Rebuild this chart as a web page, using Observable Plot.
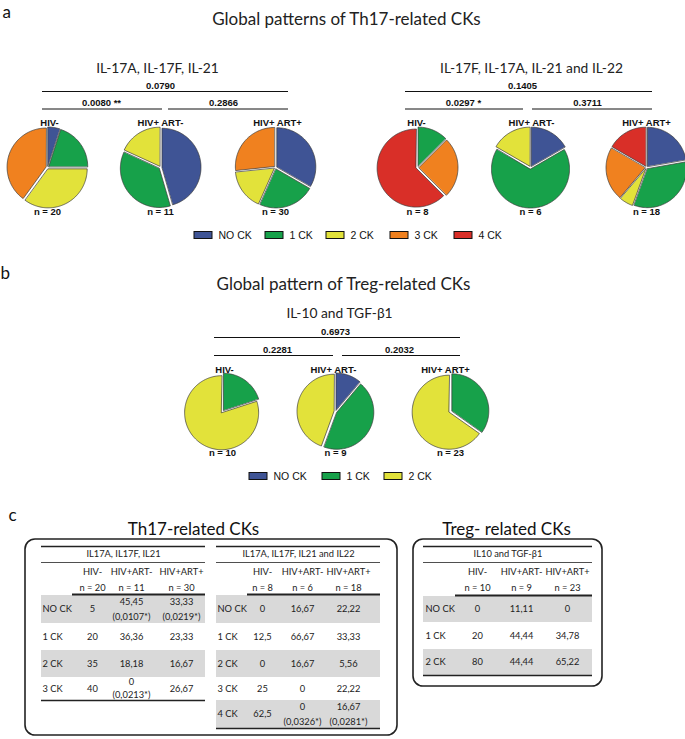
<!DOCTYPE html>
<html><head><meta charset="utf-8">
<script src="https://cdn.jsdelivr.net/npm/d3@7"></script>
<script src="https://cdn.jsdelivr.net/npm/@observablehq/plot@0.6"></script>
<style>body{margin:0;background:#fff}</style>
</head><body><div id="chart"></div>
<script>
// ---------- data ----------
const categories = ["NO CK", "1 CK", "2 CK", "3 CK", "4 CK"];
const palette = ["#3f5495", "#17a14a", "#e2e23a", "#f0811f", "#d92f28"];
const groups = ["HIV-", "HIV+ ART-", "HIV+ ART+"];
const panelLetters = ["a", "b", "c"];
const panelTitles = ["Global patterns of Th17-related CKs", "Global pattern of Treg-related CKs"];
const tableHeadings = ["Th17-related CKs", "Treg- related CKs"];
const tableTitles = ["IL17A, IL17F, IL21", "IL17A, IL17F, IL21 and IL22", "IL10 and TGF-β1"];

const th17aTitle = "IL-17A, IL-17F, IL-21";
const th17aN = [20, 11, 30];
const th17aValues = [[5, 20, 35, 40], [45.45, 36.36, 18.18, 0], [33.33, 23.33, 16.67, 26.67]];
const th17aP = ["0.0790", "0.0080 **", "0.2866"];
const th17aNotes = [[null, null, null, null], ["0,0107*", null, null, "0,0213*"], ["0,0219*", null, null, null]];

const th17bTitle = "IL-17F, IL-17A, IL-21 and IL-22";
const th17bN = [8, 6, 18];
const th17bValues = [[0, 12.5, 0, 25, 62.5], [16.67, 66.67, 16.67, 0, 0], [22.22, 33.33, 5.56, 22.22, 16.67]];
const th17bP = ["0.1405", "0.0297 *", "0.3711"];
const th17bNotes = [[null, null, null, null, null], [null, null, null, null, "0,0326*"], [null, null, null, null, "0,0281*"]];

const tregTitle = "IL-10 and TGF-β1";
const tregN = [10, 9, 23];
const tregValues = [[0, 20, 80], [11.11, 44.44, 44.44], [0, 34.78, 65.22]];
const tregP = ["0.6973", "0.2281", "0.2032"];
const tregNotes = [[null, null, null], [null, null, null], [null, null, null]];

// ---------- layout helpers ----------
const FONT_TITLE = "Lato, 'Open Sans', sans-serif";
const FONT_BOLD = "'Liberation Sans', Arial, sans-serif";
const FONT_TABLE = "Lato, 'Open Sans', sans-serif";
const EXPLODE = 1.5;
const pie = d3.pie().sort(null).value(d => d);

const slicePts = [];
function addPie(values, cx, cy, r, key) {
  pie(values).forEach((a, i) => {
    if (a.value <= 0) return;
    const mid = (a.startAngle + a.endAngle) / 2;
    const ox = cx + EXPLODE * Math.sin(mid), oy = cy - EXPLODE * Math.cos(mid);
    const id = key + "-" + i;
    slicePts.push({id, cat: categories[i], x: ox, y: oy});
    const n = Math.max(2, Math.ceil((a.endAngle - a.startAngle) / 0.03));
    for (let k = 0; k <= n; k++) {
      const t = a.startAngle + (a.endAngle - a.startAngle) * k / n;
      slicePts.push({id, cat: categories[i], x: ox + r * Math.sin(t), y: oy - r * Math.cos(t)});
    }
  });
}

const boldTexts = [], subTexts = [], legendTexts = [], legendBoxes = [], links = [];
const tableTexts = [], bands = [], tableRules = [];

function pieGroup(spec, values, ns, pvals, title) {
  values.forEach((v, g) => addPie(v, spec.cx[g], spec.cy, spec.r, spec.key + g));
  groups.forEach((g, i) => {
    boldTexts.push({x: spec.gx[i], y: spec.gy, t: g});
    boldTexts.push({x: spec.cx[i], y: spec.ny, t: "n = " + ns[i]});
  });
  subTexts.push({x: spec.subX, y: spec.subY, t: title});
  links.push({x1: spec.top[0], x2: spec.top[1], y: spec.topY});
  links.push({x1: spec.lowL[0], x2: spec.lowL[1], y: spec.lowY});
  links.push({x1: spec.lowR[0], x2: spec.lowR[1], y: spec.lowY});
  boldTexts.push({x: spec.pX[0], y: spec.topY - 6, t: pvals[0]});
  boldTexts.push({x: spec.pX[1], y: spec.lowY - 6, t: pvals[1]});
  boldTexts.push({x: spec.pX[2], y: spec.lowY - 6, t: pvals[2]});
}

function legend(cats, boxX, y) {
  cats.forEach((c, i) => {
    legendBoxes.push({cat: c, x1: boxX[i], x2: boxX[i] + 18, y1: y - 3.5, y2: y + 3.5});
    legendTexts.push({x: boxX[i] + 24, y, t: c});
  });
}

const fmt = v => String(v).replace(".", ",");
function table(spec, values, ns, notes, title) {
  const b = spec.rows;
  tableRules.push({x1: spec.x0, x2: spec.x1, y: spec.topY, w: 1.4});
  tableRules.push({x1: spec.x0, x2: spec.x1, y: spec.topY + 16, w: 0.8});
  tableRules.push({x1: spec.nx0, x2: spec.x1, y: b[0] - 1, w: 1.8});
  tableRules.push({x1: spec.x0, x2: spec.x1, y: b[b.length - 1], w: 1.6});
  tableTexts.push({x: (spec.x0 + spec.x1) / 2, y: spec.topY + 7.5, t: title, a: "middle"});
  groups.forEach((g, i) => {
    tableTexts.push({x: spec.col[i], y: spec.topY + 25.5, t: g.replace(" ", ""), a: "middle"});
    tableTexts.push({x: spec.col[i], y: spec.topY + 41.5, t: "n = " + ns[i], a: "middle"});
  });
  const nRows = values[0].length;
  for (let r = 0; r < nRows; r++) {
    const y0 = b[r], y1 = b[r + 1], yc = (y0 + y1) / 2;
    if (r % 2 === 0) bands.push({x1: spec.x0, x2: spec.x1, y1: y0, y2: y1});
    tableTexts.push({x: spec.labelX, y: yc, t: categories[r], a: "start"});
    for (let g = 0; g < 3; g++) {
      const note = notes[g][r];
      if (note) {
        const d = (y1 - y0) > 25 ? 7.5 : 6.5;
        tableTexts.push({x: spec.col[g], y: yc - d, t: fmt(values[g][r]), a: "middle"});
        tableTexts.push({x: spec.col[g], y: yc + d, t: "(" + note + ")", a: "middle"});
      } else {
        tableTexts.push({x: spec.col[g], y: yc, t: fmt(values[g][r]), a: "middle"});
      }
    }
  }
}

// ---------- panel a ----------
pieGroup({key: "aL", cx: [47, 160, 275], gx: [49, 160, 277], cy: 167, r: 39, gy: 122, ny: 211,
  subX: 157, subY: 68, top: [42, 288], lowL: [42, 162], lowR: [168, 288], topY: 91, lowY: 108.5,
  pX: [160, 101, 223]}, th17aValues, th17aN, th17aP, th17aTitle);
pieGroup({key: "aR", cx: [417, 530, 646], gx: [416, 531, 646], cy: 167, r: 39, gy: 122, ny: 211,
  subX: 531, subY: 68, top: [405, 652], lowL: [405, 523], lowR: [532, 652], topY: 91, lowY: 108.5,
  pX: [522, 463, 587]}, th17bValues, th17bN, th17bP, th17bTitle);
legend(categories, [194, 265, 326, 390, 454], 235);

// ---------- panel b ----------
pieGroup({key: "b", cx: [222, 335, 450], gx: [224, 333, 445], cy: 411, r: 37, gy: 369, ny: 452,
  subX: 339, subY: 313, top: [214, 460], lowL: [214, 333], lowR: [342, 460], topY: 337, lowY: 355,
  pX: [335, 277, 399]}, tregValues, tregN, tregP, tregTitle);
legend(categories.slice(0, 3), [249, 322, 384], 476);

// ---------- panel c ----------
table({x0: 41, x1: 205, nx0: 72, labelX: 42, col: [92, 131, 181], topY: 546, rows: [595, 623, 650, 677, 700]},
  th17aValues, th17aN, th17aNotes, tableTitles[0]);
table({x0: 216, x1: 380, nx0: 247, labelX: 217, col: [262, 302, 348], topY: 546, rows: [595, 623, 650, 677, 700, 728]},
  th17bValues, th17bN, th17bNotes, tableTitles[1]);
table({x0: 423, x1: 592, nx0: 455, labelX: 425, col: [477, 521, 567], topY: 546, rows: [596, 622, 649, 675]},
  tregValues, tregN, tregNotes, tableTitles[2]);
const boxes = [{x1: 25, x2: 397, y1: 539, y2: 735}, {x1: 413, x2: 602, y1: 539, y2: 686}];

const letters = panelLetters.map((t, i) => ({t, x: [2, 0, 8][i], y: [12, 273, 515][i]}));
const titles = [{t: panelTitles[0], x: 346, y: 19}, {t: panelTitles[1], x: 343, y: 284}];
const headings = [{t: tableHeadings[0], x: 193, y: 529}, {t: tableHeadings[1], x: 506, y: 529}];

const chart = Plot.plot({
  width: 685, height: 739, margin: 0,
  x: {domain: [0, 685], range: [0, 685], axis: null},
  y: {domain: [0, 739], range: [0, 739], axis: null},
  color: {domain: categories, range: palette},
  style: {background: "#fff", color: "#1a1a1a"},
  marks: [
    Plot.line(slicePts, {x: "x", y: "y", z: "id", fill: "cat", stroke: "#3a3a3a", strokeWidth: 0.7, curve: "linear-closed"}),
    Plot.ruleY(links, {x1: "x1", x2: "x2", y: "y", stroke: "#111", strokeWidth: 1}),
    Plot.text(boldTexts, {x: "x", y: "y", text: "t", fontFamily: FONT_BOLD, fontWeight: "bold", fontSize: 9.5, fill: "#111"}),
    Plot.text(subTexts, {x: "x", y: "y", text: "t", fontFamily: FONT_TITLE, fontSize: 13.8, fill: "#222"}),
    Plot.rect(legendBoxes, {x1: "x1", x2: "x2", y1: "y1", y2: "y2", fill: "cat", stroke: "#111", strokeWidth: 1}),
    Plot.text(legendTexts, {x: "x", y: "y", text: "t", textAnchor: "start", fontFamily: FONT_BOLD, fontSize: 10.5, fill: "#111"}),
    Plot.text(letters, {x: "x", y: "y", text: "t", textAnchor: "start", fontFamily: FONT_TITLE, fontSize: 17, fill: "#111"}),
    Plot.text(titles, {x: "x", y: "y", text: "t", fontFamily: FONT_TITLE, fontSize: 17, fill: "#222"}),
    Plot.text(headings, {x: "x", y: "y", text: "t", fontFamily: FONT_TITLE, fontSize: 17, fill: "#111"}),
    Plot.rect(bands, {x1: "x1", x2: "x2", y1: "y1", y2: "y2", fill: "#d9d9d9"}),
    Plot.ruleY(tableRules, {x1: "x1", x2: "x2", y: "y", strokeWidth: "w", stroke: "#222"}),
    Plot.text(tableTexts.filter(d => d.a === "middle"), {x: "x", y: "y", text: "t", fontFamily: FONT_TABLE, fontSize: 9.3, fill: "#222"}),
    Plot.text(tableTexts.filter(d => d.a === "start"), {x: "x", y: "y", text: "t", textAnchor: "start", fontFamily: FONT_TABLE, fontSize: 9.3, fill: "#222"}),
    Plot.rect(boxes, {x1: "x1", x2: "x2", y1: "y1", y2: "y2", rx: 10, fill: "none", stroke: "#222", strokeWidth: 1.6})
  ]
});
document.getElementById("chart").appendChild(chart);
</script>
</body></html>
